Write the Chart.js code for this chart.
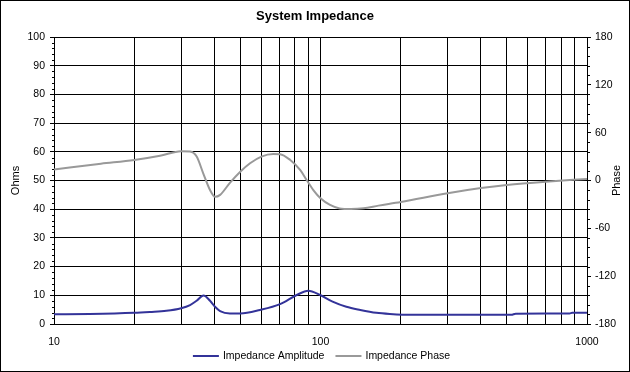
<!DOCTYPE html>
<html>
<head>
<meta charset="utf-8">
<script src="https://cdn.jsdelivr.net/npm/chart.js@4.4.0/dist/chart.umd.min.js"></script>
<style>
  html, body { margin: 0; padding: 0; background: #fff; }
  #wrap { width: 630px; height: 372px; }
</style>
</head>
<body>
<div id="wrap"><canvas id="impedanceChart" width="630" height="372"></canvas></div>
<script>
// Impedance amplitude (ohms)
const ampFreq = [10, 13.6, 20, 22.9, 26.4, 30, 32.4, 34.3, 36.4, 38.5, 40.2, 42, 45.7, 50, 59.3, 70.5, 81.4, 90, 99.6, 111, 125, 141, 162, 182, 222, 300, 520, 540, 860, 880, 1000];
const ampOhms = [3.4, 3.5, 3.9, 4.2, 4.6, 5.5, 6.6, 8.1, 9.9, 8.1, 6.0, 4.5, 3.7, 3.7, 4.9, 6.9, 10.1, 11.6, 10.1, 7.8, 6.0, 4.9, 3.9, 3.5, 3.2, 3.2, 3.2, 3.6, 3.7, 3.9, 3.9];

// Impedance phase (degrees)
const phaseFreq = [10, 15, 20, 25, 30, 32.4, 34.3, 36.3, 38.5, 40.2, 42, 45.7, 50, 54.4, 60, 66.5, 70.5, 77, 84, 88.7, 94, 100, 108.6, 118, 130, 145, 165, 200, 300, 400, 500, 700, 1000];
const phaseDeg = [13.8, 21, 25.7, 31, 36.8, 36.3, 30, 9, -12, -20.5, -18, -3, 11, 21.6, 30, 33.2, 33, 25.7, 13, 0.6, -12, -22.3, -30.7, -35, -35.7, -34.8, -31.5, -27, -16, -9.5, -5.6, -1.5, 1.9];

const freqGrid = [10, 20, 30, 40, 50, 60, 70, 80, 90, 100, 200, 300, 400, 500, 600, 700, 800, 900, 1000];
const freqLabels = [10, 100, 1000];

const chartTitle = "System Impedance";
const ohmsTitle = "Ohms";
const phaseTitle = "Phase";
const seriesNames = ["Impedance Amplitude", "Impedance Phase"];

const FONT = "'Liberation Sans', Arial, sans-serif";

// minor ticks, axis titles, legend and outer frame
const extras = {
    id: "extras",
    afterDraw(chart) {
        const ctx = chart.ctx;
        const yL = chart.scales.y;
        const yR = chart.scales.yR;
        const area = chart.chartArea;
        ctx.save();

        ctx.strokeStyle = "#000";
        ctx.lineWidth = 1;
        ctx.beginPath();
        for (let v = 0; v <= 100; v += 2) {
            if (v % 10 === 0) continue;
            const py = Math.round(yL.getPixelForValue(v)) + 0.5;
            ctx.moveTo(area.left - 2, py);
            ctx.lineTo(area.left, py);
        }
        for (let v = -180; v <= 180; v += 12) {
            if ((v + 180) % 60 === 0) continue;
            const py = Math.round(yR.getPixelForValue(v)) + 0.5;
            ctx.moveTo(area.right, py);
            ctx.lineTo(area.right + 3, py);
        }
        ctx.stroke();

        // axis titles
        const midY = (area.top + area.bottom) / 2;
        ctx.fillStyle = "#000";
        ctx.font = "11px " + FONT;
        ctx.textAlign = "center";
        ctx.textBaseline = "middle";
        ctx.save();
        ctx.translate(16, midY);
        ctx.rotate(-Math.PI / 2);
        ctx.fillText(ohmsTitle, 0, 0);
        ctx.restore();
        ctx.save();
        ctx.translate(617, midY);
        ctx.rotate(-Math.PI / 2);
        ctx.fillText(phaseTitle, 0, 0);
        ctx.restore();

        // legend
        ctx.font = "10.5px " + FONT;
        ctx.textAlign = "left";
        const ds = chart.data.datasets;
        const lineW = 26, gapIn = 4, gapOut = 11;
        let total = 0;
        ds.forEach((d, i) => {
            total += lineW + gapIn + ctx.measureText(d.label).width;
            if (i < ds.length - 1) total += gapOut;
        });
        let x = (area.left + area.right) / 2 - total / 2 + 1;
        const ly = 356;
        ds.forEach((d) => {
            ctx.strokeStyle = d.borderColor;
            ctx.lineWidth = 2;
            ctx.beginPath();
            ctx.moveTo(x, ly);
            ctx.lineTo(x + lineW, ly);
            ctx.stroke();
            x += lineW + gapIn;
            ctx.fillText(d.label, x, ly);
            x += ctx.measureText(d.label).width + gapOut;
        });

        // outer frame
        ctx.strokeStyle = "#000";
        ctx.lineWidth = 1;
        ctx.strokeRect(0.5, 0.5, 629, 371);
        ctx.restore();
    }
};

const ctx = document.getElementById("impedanceChart").getContext("2d");
const impedanceChart = new Chart(ctx, {
    type: "line",
    data: {
        datasets: [
            {
                label: seriesNames[0],
                data: ampFreq.map((f, i) => ({ x: f, y: ampOhms[i] })),
                borderColor: "#333399",
                borderWidth: 2,
                pointRadius: 0,
                fill: false,
                cubicInterpolationMode: "monotone",
                yAxisID: "y"
            },
            {
                label: seriesNames[1],
                data: phaseFreq.map((f, i) => ({ x: f, y: phaseDeg[i] })),
                borderColor: "#999999",
                borderWidth: 2,
                pointRadius: 0,
                fill: false,
                cubicInterpolationMode: "monotone",
                yAxisID: "yR"
            }
        ]
    },
    options: {
        responsive: false,
        animation: false,
        devicePixelRatio: 1,
        layout: { padding: { left: 0, right: 0, top: 0, bottom: 24 } },
        plugins: {
            legend: { display: false },
            tooltip: { enabled: false },
            title: {
                display: true,
                text: chartTitle,
                color: "#000",
                font: { family: FONT, size: 13, weight: "bold", lineHeight: 1.2 },
                padding: { top: 9, bottom: 12.4 }
            }
        },
        scales: {
            x: {
                type: "logarithmic",
                min: 10,
                max: 1000,
                afterBuildTicks: (s) => { s.ticks = freqGrid.map((v) => ({ value: v })); },
                afterFit: (s) => { s.height = 24; },
                ticks: {
                    autoSkip: false,
                    maxRotation: 0,
                    padding: 12,
                    color: "#000",
                    font: { family: FONT, size: 10.5 },
                    callback: (v) => (freqLabels.includes(v) ? String(v) : "")
                },
                grid: { color: "#000", drawTicks: false },
                border: { color: "#000" }
            },
            y: {
                position: "left",
                min: 0,
                max: 100,
                afterFit: (s) => { s.width = 54; },
                ticks: {
                    stepSize: 10,
                    padding: 5,
                    color: "#000",
                    font: { family: FONT, size: 10.5 }
                },
                grid: { color: "#000", tickLength: 4 },
                border: { color: "#000" }
            },
            yR: {
                position: "right",
                min: -180,
                max: 180,
                afterFit: (s) => { s.width = 43; },
                ticks: {
                    stepSize: 60,
                    padding: 4,
                    color: "#000",
                    font: { family: FONT, size: 10.5 }
                },
                grid: { drawOnChartArea: false, color: "#000", tickLength: 4 },
                border: { color: "#000" }
            }
        }
    },
    plugins: [extras]
});
</script>
</body>
</html>
